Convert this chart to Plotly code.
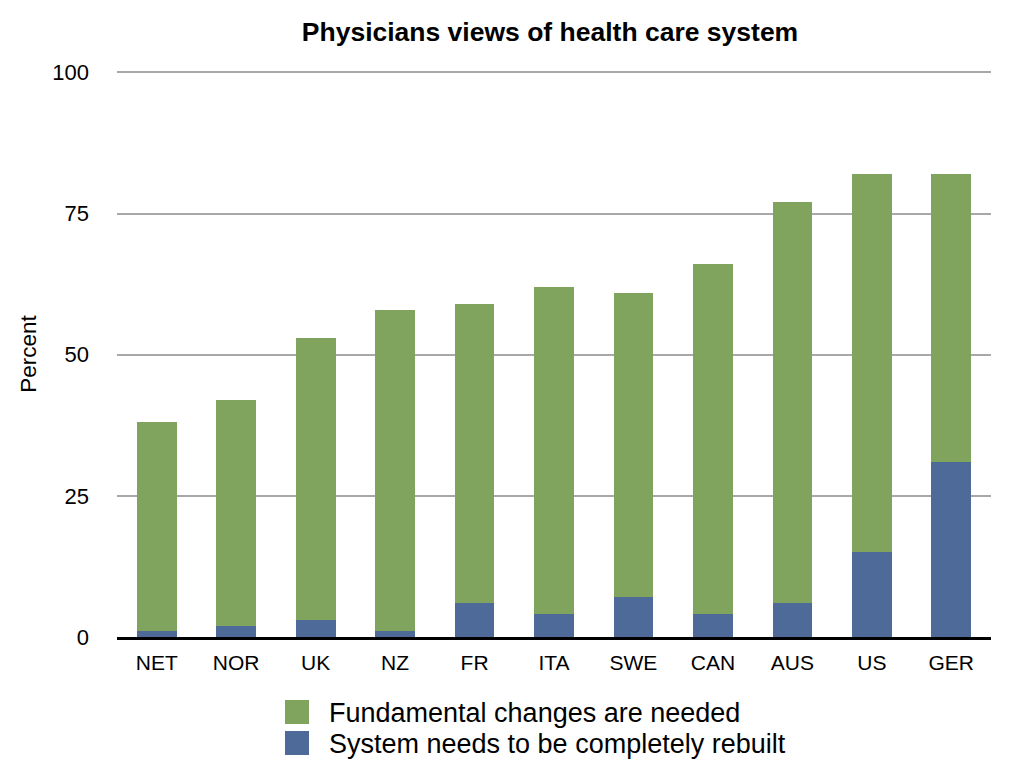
import plotly.graph_objects as go

countries = ["NET", "NOR", "UK", "NZ", "FR", "ITA", "SWE", "CAN", "AUS", "US", "GER"]
rebuilt = [1, 2, 3, 1, 6, 4, 7, 4, 6, 15, 31]
fundamental = [37, 40, 50, 57, 53, 58, 54, 62, 71, 67, 51]
y_ticks = [0, 25, 50, 75, 100]

GREEN = "#80a35e"
BLUE = "#4e6a99"
FONT = "Liberation Sans, Arial, sans-serif"
NAME_R = "System needs to be completely rebuilt"
NAME_F = "Fundamental changes are needed"

W, H = 1002, 765
ML, MR, MT, MB = 109, 19, 63, 136
PW, PH = W - ML - MR, H - MT - MB


def px_x(px):
    return (px - ML) / PW


def px_y(py):
    return (H - MB - py) / PH


fig = go.Figure()
fig.add_trace(go.Bar(x=countries, y=rebuilt, name=NAME_R,
                     marker=dict(color=BLUE, line=dict(width=0))))
fig.add_trace(go.Bar(x=countries, y=fundamental, name=NAME_F,
                     marker=dict(color=GREEN, line=dict(width=0))))

# legend drawn below the plot: swatches + labels
legend_items = [(NAME_F, GREEN, 704), (NAME_R, BLUE, 735)]
for name, color, cy in legend_items:
    fig.add_shape(type="rect", xref="paper", yref="paper",
                  x0=px_x(277), x1=px_x(301), y0=px_y(cy - 12), y1=px_y(cy + 12),
                  fillcolor=color, line=dict(width=0))
    fig.add_annotation(text=name, xref="paper", yref="paper", x=px_x(319), y=px_y(cy + 1),
                       xanchor="left", yanchor="middle", showarrow=False,
                       font=dict(size=27, family=FONT, color="black"))

fig.update_layout(
    barmode="stack",
    bargap=0.5,
    width=W, height=H,
    margin=dict(l=ML, r=MR, t=MT, b=MB, autoexpand=False),
    paper_bgcolor="white", plot_bgcolor="white",
    font=dict(family=FONT, color="black", size=21),
    title=dict(text="<b>Physicians views of health care system</b>", xref="paper",
               x=0.5 - 4 / PW, xanchor="center", y=1 - 24 / H, yanchor="middle",
               font=dict(size=26.5, family=FONT)),
    showlegend=False,
)
fig.update_xaxes(showgrid=False, showline=True, linecolor="black", linewidth=2.5,
                 ticks="", tickfont=dict(size=21), ticklabelstandoff=5, automargin=False)
fig.update_yaxes(range=[0, 100.25], tickvals=y_ticks, showgrid=True, gridcolor="#a8a8a8",
                 gridwidth=1.5, zeroline=False, showline=False, ticks="", automargin=False,
                 tickfont=dict(size=22), ticklabelstandoff=27,
                 title=dict(text="Percent", font=dict(size=22.5), standoff=9))

fig.write_html("out.html")
